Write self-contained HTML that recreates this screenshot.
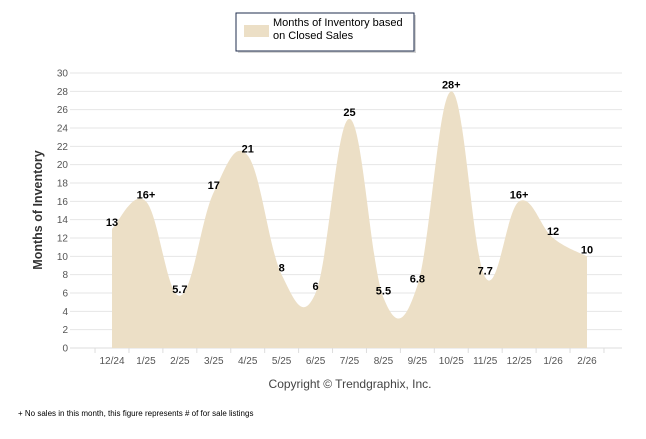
<!DOCTYPE html>
<html><head><meta charset="utf-8"><style>
body{margin:0;background:#fff;font-family:"Liberation Sans",Arial,sans-serif;}
</style></head><body>
<svg id="s" width="646" height="434" xmlns="http://www.w3.org/2000/svg" font-family="Liberation Sans, Arial, sans-serif">
<rect x="0" y="0" width="646" height="434" fill="#fff"/>
<g id="grid"></g>
<path id="area" fill="#ecdfc6" d=""/>
<g id="labels" font-size="11" font-weight="bold" fill="#000" text-anchor="middle"></g>
<g id="ax" font-size="10" fill="#555"></g>
<text x="0" y="0" transform="translate(42,210) rotate(-90)" text-anchor="middle" font-size="12.5" font-weight="bold" fill="#333">Months of Inventory</text>
<text x="350" y="388" text-anchor="middle" font-size="12" fill="#444">Copyright © Trendgraphix, Inc.</text>
<text x="18" y="416" font-size="8" fill="#000">+  No sales in this month, this figure represents # of for sale listings</text>
<rect x="238" y="15" width="178" height="38" fill="#888" opacity="0.35"/>
<rect x="236" y="13" width="178" height="38" fill="#fff" stroke="#1f2d4d" stroke-width="1"/>
<rect x="244" y="25" width="25" height="12" fill="#ecdfc6"/>
<text x="273" y="26" font-size="11" fill="#000">Months of Inventory based</text>
<text x="273" y="39" font-size="11" fill="#000">on Closed Sales</text>
</svg>
<script>
var vals=[13,16,5.7,17,21,8,6,25,5.5,6.8,28,7.7,16,12,10];
var labs=["13","16+","5.7","17","21","8","6","25","5.5","6.8","28+","7.7","16+","12","10"];
var cats=["12/24","1/25","2/25","3/25","4/25","5/25","6/25","7/25","8/25","9/25","10/25","11/25","12/25","1/26","2/26"];
var x0=112,dx=(587-112)/14,y0=348,k=(348-73)/30;
function X(i){return x0+dx*i}function Y(v){return y0-v*k}
var g="",a="";
for(var v=0;v<=30;v+=2){var y=Y(v);g+='<line x1="70" x2="622" y1="'+y+'" y2="'+y+'" stroke="#e6e6e6"/>';a+='<text x="68" y="'+(y+3.5)+'" text-anchor="end">'+v+'</text>';}
g+='<line x1="70" x2="622" y1="'+y0+'" y2="'+y0+'" stroke="#ddd"/>';
for(var i=0;i<=15;i++){var tx=x0-dx/2+dx*i;g+='<line x1="'+tx+'" x2="'+tx+'" y1="348" y2="353" stroke="#ddd"/>';}
for(var i=0;i<15;i++){a+='<text x="'+X(i)+'" y="364" text-anchor="middle">'+cats[i]+'</text>';}
document.getElementById("grid").innerHTML=g;document.getElementById("ax").innerHTML=a;
var P=vals.map(function(v,i){return[X(i),Y(v)]});
var d="M"+P[0][0]+","+y0+"L"+P[0][0]+","+P[0][1];
for(var i=0;i<P.length-1;i++){var p0=P[Math.max(i-1,0)],p1=P[i],p2=P[i+1],p3=P[Math.min(i+2,P.length-1)];var t=0.38;
d+="C"+(p1[0]+(p2[0]-p0[0])*t/2)+","+(p1[1]+(p2[1]-p0[1])*t/2)+" "+(p2[0]-(p3[0]-p1[0])*t/2)+","+(p2[1]-(p3[1]-p1[1])*t/2)+" "+p2[0]+","+p2[1];}
d+="L"+P[14][0]+","+y0+"Z";
document.getElementById("area").setAttribute("d",d);
var l="";for(var i=0;i<15;i++){l+='<text x="'+X(i)+'" y="'+(P[i][1]-3)+'">'+labs[i]+'</text>';}
document.getElementById("labels").innerHTML=l;
</script>
</body></html>
